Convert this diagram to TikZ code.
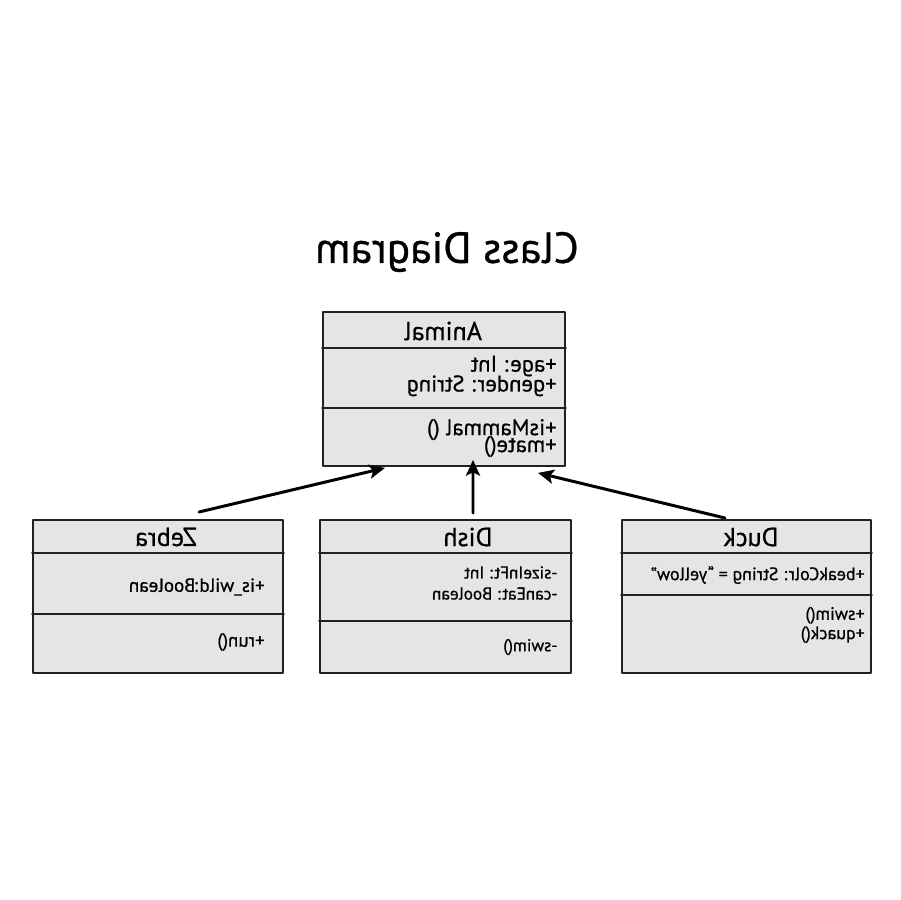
\documentclass[tikz,border=0pt]{standalone}
\usepackage{fontspec}
\setmainfont{PT Sans}[FakeBold=0.7]
\usetikzlibrary{arrows.meta}
\definecolor{e5e5e5}{rgb}{0.9,0.9,0.9}
\definecolor{zzzzzz}{rgb}{0.13,0.13,0.13}

\begin{document}
\begin{tikzpicture}[line cap=round,line join=round,x=0.02cm,y=-0.02cm,
  mirror/.style={xscale=-1},
  classbox/.style={draw=zzzzzz,fill=e5e5e5,line width=1.1pt,anchor=north,inner sep=0pt},
  classname/.style={mirror,inner sep=0pt,font=\fontsize{14.8}{18}\selectfont},
  member/.style={mirror,anchor=west,align=left,inner sep=0pt,font=\fontsize{10.2}{12}\selectfont},
  inherit/.style={line width=1.7pt,-{Stealth[length=9pt,width=8pt,inset=2pt]}}]
\useasboundingbox (0,0) rectangle (900,900);
% title
\node[mirror,font=\fontsize{24.7}{30}\selectfont] (title) at (447,252) {Class Diagram};
% super class
\node[classbox,minimum width=4.84cm,minimum height=3.08cm] (animal) at (444,311) {};
\draw[zzzzzz,line width=1.1pt] ([shift={(0,37)}]animal.north west) -- ([shift={(0,37)}]animal.north east);
\draw[zzzzzz,line width=1.1pt] ([shift={(0,97)}]animal.north west) -- ([shift={(0,97)}]animal.north east);
\node[classname] (animalname) at (443,331) {Animal};
\node[member,font=\fontsize{12.9}{12.5}\selectfont] (animalattr) at (557,376) {+age: Int\\[-1.2pt]+gender: String};
\node[member,font=\fontsize{12.9}{9.5}\selectfont] (animalops) at (557,438) {+isMammal ()\\[-3.4pt]+mate()};
% sub classes
\node[classbox,minimum width=5cm,minimum height=3.06cm] (zebra) at (158,519) {};
\draw[zzzzzz,line width=1.1pt] ([shift={(0,34)}]zebra.north west) -- ([shift={(0,34)}]zebra.north east);
\draw[zzzzzz,line width=1.1pt] ([shift={(0,95)}]zebra.north west) -- ([shift={(0,95)}]zebra.north east);
\node[classname] (zebraname) at (166,537) {Zebra};
\node[member,font=\fontsize{10.8}{12}\selectfont] (zebraattr) at (265,587) {+is\_wild:Boolean};
\node[member,font=\fontsize{10.8}{12}\selectfont] (zebraops) at (265,642) {+run()};

\node[classbox,minimum width=5.02cm,minimum height=3.06cm] (dish) at (445.5,519) {};
\draw[zzzzzz,line width=1.1pt] ([shift={(0,34)}]dish.north west) -- ([shift={(0,34)}]dish.north east);
\draw[zzzzzz,line width=1.1pt] ([shift={(0,102)}]dish.north west) -- ([shift={(0,102)}]dish.north east);
\node[classname] (dishname) at (468,537) {Dish};
\node[member,font=\fontsize{9.8}{12}\selectfont] (dishattr) at (558,583) {-sizeInFt: Int\\-canEat: Boolean};
\node[member,font=\fontsize{9.8}{12}\selectfont] (dishops) at (558,647) {-swim()};

\node[classbox,minimum width=4.98cm,minimum height=3.06cm] (duck) at (746.5,519) {};
\draw[zzzzzz,line width=1.1pt] ([shift={(0,34)}]duck.north west) -- ([shift={(0,34)}]duck.north east);
\draw[zzzzzz,line width=1.1pt] ([shift={(0,76)}]duck.north west) -- ([shift={(0,76)}]duck.north east);
\node[classname] (duckname) at (751,537) {Duck};
\node[member] (duckattr) at (865,575) {+beakColr: String = “yellow”};
\node[member] (duckops) at (865,625) {+swim()\\[-1pt]+quack()};
% generalisation
\draw[inherit] ([shift={(41,-7)}]zebra.north) -- ([shift={(-59,1)}]animal.south);
\draw[inherit] ([shift={(27.5,-6)}]dish.north) -- ([shift={(29,-7)}]animal.south);
\draw[inherit] ([shift={(-21.5,-1)}]duck.north) -- ([shift={(94,6)}]animal.south);
\end{tikzpicture}
\end{document}
